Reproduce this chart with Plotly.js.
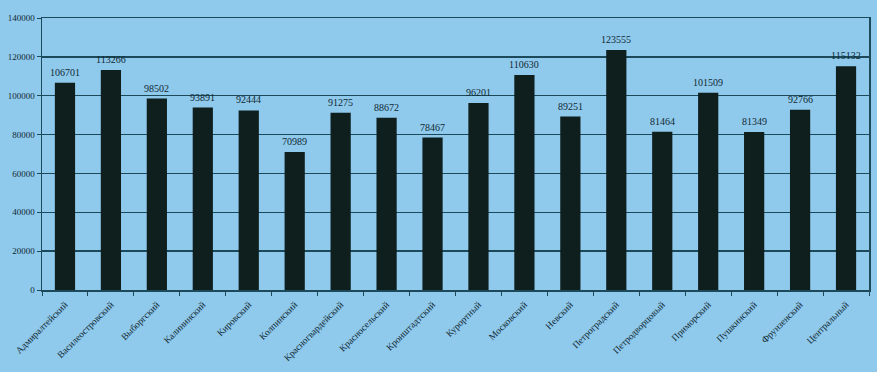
<!DOCTYPE html>
<html>
<head>
<meta charset="utf-8">
<script src="https://cdn.plot.ly/plotly-3.0.1.min.js"></script>
<style>html,body{margin:0;padding:0;background:#8fc9ec;}#chart{width:877px;height:372px;}</style>
</head>
<body>
<div id="chart"></div>
<script>
const districts = ["Адмиралтейский","Василеостровский","Выборгский","Калининский","Кировский","Колпинский","Красногвардейский","Красносельский","Кронштадтский","Курортный","Московский","Невский","Петроградский","Петродворцовый","Приморский","Пушкинский","Фрунзенский","Центральный"];
const values = [106701,113266,98502,93891,92444,70989,91275,88672,78467,96201,110630,89251,123555,81464,101509,81349,92766,115132];
const yTicks = [0,20000,40000,60000,80000,100000,120000,140000];

const ink = '#112a33';
const annotations = districts.map((d,i)=>({
  x: d, y: values[i], xref:'x', yref:'y', text: String(values[i]),
  showarrow:false, yanchor:'bottom', yshift:3,
  font:{family:'Liberation Serif, serif', size:10, color:ink}
}));

Plotly.newPlot('chart', [{
  type:'bar', x: districts, y: values,
  marker:{color:'#0e1f1e', line:{width:0}},
  hoverinfo:'x+y'
}], {
  width:877, height:372,
  margin:{l:42, r:8, t:18, b:82},
  paper_bgcolor:'#8fc9ec', plot_bgcolor:'#8fc9ec',
  bargap:0.56,
  showlegend:false,
  xaxis:{type:'category', tickangle:-45, tickson:'boundaries', ticks:'outside', ticklen:4, tickcolor:'#1c4a5a',
    ticklabelstandoff:4,
    showline:true, linecolor:'#1c4a5a', linewidth:1.5, mirror:true, showgrid:false,
    tickfont:{family:'Liberation Serif, serif', size:9.5, color:ink}},
  yaxis:{range:[0,140000], tickvals:yTicks, ticktext:yTicks.map(String), ticks:'outside', ticklen:4, tickcolor:'#1c4a5a',
    showline:true, linecolor:'#1c4a5a', linewidth:1.5, mirror:true,
    showgrid:true, gridcolor:'#1c4a5a', gridwidth:1.5, zeroline:false,
    tickfont:{family:'Liberation Serif, serif', size:9, color:ink}},
  annotations: annotations
}, {staticPlot:true});
</script>
</body>
</html>
